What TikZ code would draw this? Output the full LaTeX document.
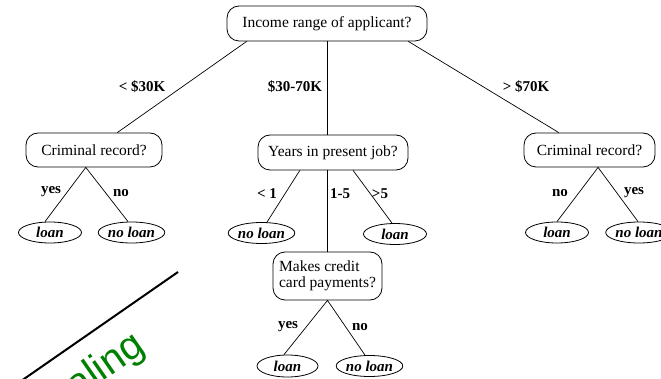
\documentclass[tikz,border=0pt]{standalone}
\usepackage{fontspec}
\setmainfont{Liberation Serif}
\newfontfamily\greenfont{Liberation Sans}
\usetikzlibrary{calc,shapes.geometric}
\definecolor{darkgreen}{RGB}{0,128,0}
\begin{document}
\begin{tikzpicture}[x=1pt,y=-1pt,
  qbox/.style={draw, rounded corners=12pt, inner sep=0pt, line width=0.8pt,
    font=\fontsize{15.5}{16.5}\selectfont},
  leaf/.style={draw, ellipse, inner sep=0pt, line width=0.8pt,
    minimum width=63pt, minimum height=21pt,
    font=\fontsize{15}{15}\selectfont\bfseries\itshape},
  lab/.style={inner sep=0pt, font=\fontsize{15}{15}\selectfont\bfseries},
  edge/.style={line width=0.7pt}]
\useasboundingbox (0,0) rectangle (661,379);
\clip (0,0) rectangle (661,379);

% question nodes
\node[qbox, minimum width=200pt, minimum height=35pt] (root) at (327,23.5) {Income range of applicant?};
\node[qbox, minimum width=136pt, minimum height=34pt] (crimL) at (94,150) {Criminal record?};
\node[qbox, minimum width=150pt, minimum height=35pt] (years) at (333,152.5) {Years in present job?};
\node[qbox, minimum width=131pt, minimum height=34pt] (crimR) at (589.5,150) {Criminal record?};
\node[qbox, minimum width=109pt, minimum height=48pt, align=left] (makes) at (327.5,276) {Makes credit\\card payments?};

% leaves
\node[leaf] (l1) at (50,232.5) {loan};
\node[leaf] (l2) at (131.5,232.5) {no loan};
\node[leaf] (l3) at (261.5,233) {no loan};
\node[leaf] (l4) at (395,234) {loan};
\node[leaf, minimum width=61pt, minimum height=22pt] (l5) at (287.5,366) {loan};
\node[leaf] (l6) at (369.5,366) {no loan};
\node[leaf] (l7) at (557,232.5) {loan};
\node[leaf] (l8) at (639,232.5) {no loan};

% connectors
\draw[edge] ($(root.south west)!0.1!(root.south east)$) -- ($(crimL.north west)!0.67!(crimL.north east)$);
\draw[edge] (root.south) -- (root.south |- years.north);
\draw[edge] ($(root.south west)!0.905!(root.south east)$) -- ($(crimR.north west)!0.267!(crimR.north east)$);

\draw[edge] ($(l1.north)+(-5,0)$) -- ($(crimL.south west)!0.44!(crimL.south east)$) -- ($(l2.north)+(-3.5,0)$);

\draw[edge] ($(years.south west)!0.28!(years.south east)$) -- ($(l3.north)+(5.5,0)$);
\draw[edge] (makes.north |- years.south) -- (makes.north);
\draw[edge] ($(years.south west)!0.633!(years.south east)$) -- ($(l4.north)+(-3,0)$);

\draw[edge] ($(l5.north)+(-3.5,0)$) -- (makes.south) -- ($(l6.north)+(-4.5,0)$);

\draw[edge] (l7.north) -- ($(crimR.south west)!0.565!(crimR.south east)$) -- ($(l8.north)+(-1,0)$);

% edge labels
\node[lab] (e1) at (142,87) {< \$30K};
\node[lab] (e2) at (295,87) {\$30-70K};
\node[lab] (e3) at (526,87) {> \$70K};
\node[lab] (e4) at (51,192) {yes};
\node[lab] (e5) at (121,193) {no};
\node[lab] (e6) at (267,194) {< 1};
\node[lab] (e7) at (340,194) {1-5};
\node[lab] (e8) at (380,194) {>5};
\node[lab] (e9) at (288,327) {yes};
\node[lab] (e10) at (360,327) {no};
\node[lab] (e11) at (560,193) {no};
\node[lab] (e12) at (634,193) {yes};

% annotation
\coordinate (d1) at (178,272);
\coordinate (d2) at (10,388.7);
\draw[line width=2pt] (d1) -- (d2);
\node[font=\greenfont\fontsize{40}{40}\selectfont, text=darkgreen, rotate=34.8, anchor=base east, inner sep=0pt] (scal) at (147,351) {Scaling};
\end{tikzpicture}
\end{document}
